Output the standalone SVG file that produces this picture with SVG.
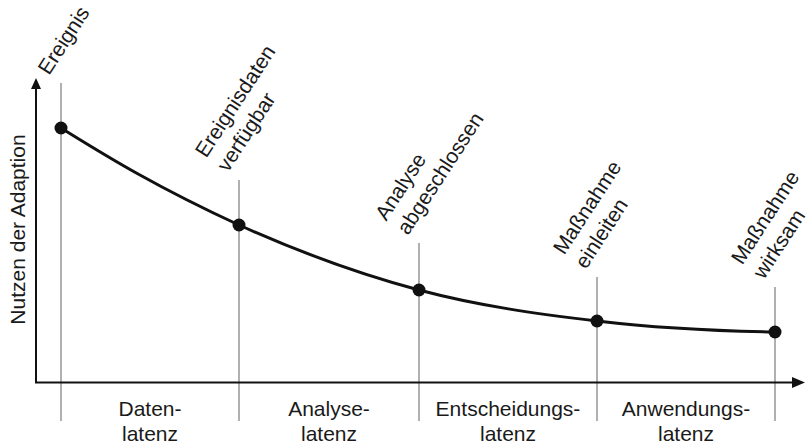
<svg xmlns="http://www.w3.org/2000/svg" width="812" height="445" viewBox="0 0 812 445">
<defs>
<style>
.t{font-family:"Liberation Sans",Arial,sans-serif;font-size:21px;fill:#1a1a1a}
.c{text-anchor:middle}
.g{stroke:#8f8f8f;stroke-width:1.4;fill:none}
.ax{stroke:#111;stroke-width:2;fill:none}
.dot{fill:#111}
</style>
</defs>
<rect width="812" height="445" fill="#fff"/>
<g id="gridlines">
<line class="g" x1="61" y1="83" x2="61" y2="421"/>
<line class="g" x1="239" y1="180" x2="239" y2="421"/>
<line class="g" x1="419" y1="243" x2="419" y2="421"/>
<line class="g" x1="597" y1="277" x2="597" y2="421"/>
<line class="g" x1="775" y1="287" x2="775" y2="421"/>
</g>
<g id="axes">
<path class="ax" d="M36,383 V87"/>
<path d="M36,78 L41,89 L31,89 Z" fill="#111"/>
<path class="ax" d="M35,382.5 H793"/>
<path d="M805,382.5 L792,377 L792,388 Z" fill="#111"/>
<text class="t c" transform="translate(25,229.5) rotate(-90)">Nutzen der Adaption</text>
</g>
<g id="connectors">
<path d="M61,128 C100,152 150,184 239,225 C299,252 359,274 419,290 C479,306 538,314 597,321 C656,328 716,331 775,332" fill="none" stroke="#111" stroke-width="3"/>
</g>
<g id="node-ereignis">
<circle class="dot" cx="61" cy="128" r="6.5"/>
<text class="t" transform="translate(49,76) rotate(-57)">Ereignis</text>
</g>
<g id="node-daten">
<circle class="dot" cx="239" cy="225" r="6.5"/>
<text class="t" transform="translate(206.2,158.8) rotate(-57)">Ereignisdaten</text>
<text class="t" transform="translate(228,173) rotate(-57)">verfügbar</text>
</g>
<g id="node-analyse">
<circle class="dot" cx="419" cy="290" r="6.5"/>
<text class="t" transform="translate(386.2,221.8) rotate(-57)">Analyse</text>
<text class="t" transform="translate(408,236) rotate(-57)">abgeschlossen</text>
</g>
<g id="node-einleiten">
<circle class="dot" cx="597" cy="321" r="6.5"/>
<text class="t" transform="translate(564.2,255.8) rotate(-57)">Maßnahme</text>
<text class="t" transform="translate(586,270) rotate(-57)">einleiten</text>
</g>
<g id="node-wirksam">
<circle class="dot" cx="775" cy="332" r="6.5"/>
<text class="t" transform="translate(742.2,265.8) rotate(-57)">Maßnahme</text>
<text class="t" transform="translate(764,280) rotate(-57)">wirksam</text>
</g>
<g id="latencies">
<text class="t c" x="150" y="416">Daten-<tspan x="150" dy="25">latenz</tspan></text>
<text class="t c" x="329" y="416">Analyse-<tspan x="329" dy="25">latenz</tspan></text>
<text class="t c" x="508" y="416">Entscheidungs-<tspan x="508" dy="25">latenz</tspan></text>
<text class="t c" x="686" y="416">Anwendungs-<tspan x="686" dy="25">latenz</tspan></text>
</g>
</svg>
